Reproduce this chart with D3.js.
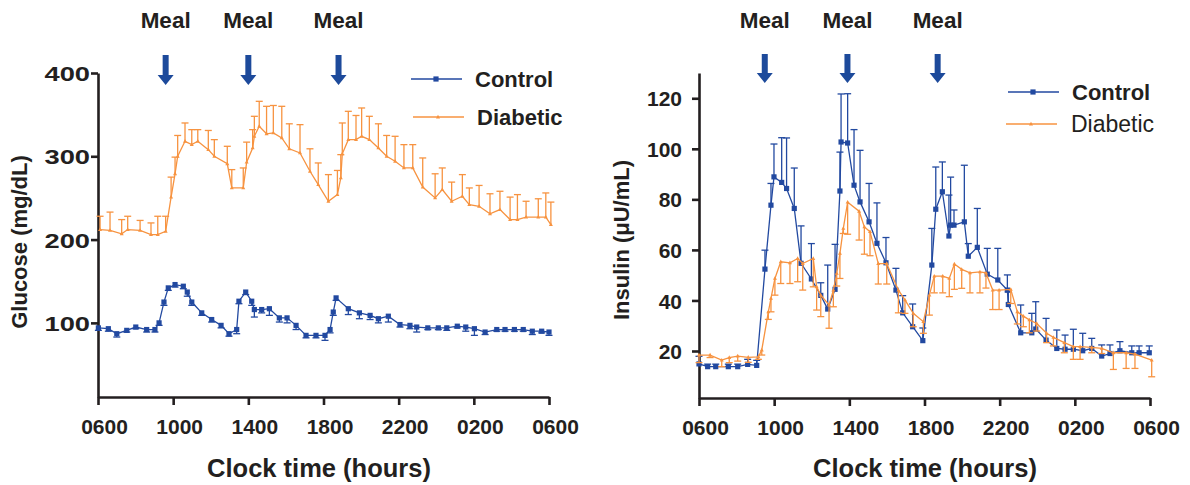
<!DOCTYPE html>
<html>
<head>
<meta charset="utf-8">
<script src="https://cdn.jsdelivr.net/npm/d3@7"></script>
<style>
  body { margin: 0; background: #fff; }
  svg text { font-family: "Liberation Sans", Arial, sans-serif; font-weight: bold; fill: #231f20; }
</style>
</head>
<body>
<svg id="chart"></svg>
<script>
// clock ticks, hours after 06:00
const clockTicks = [0, 4, 8, 12, 16, 20, 24];
const clockLabels = ["0600", "1000", "1400", "1800", "2200", "0200", "0600"];
const seriesNames = ["Control", "Diabetic"];

// glucose (mg/dL)
const glucoseTicks = [100, 200, 300, 400];
const glucoseMeals = [3.6, 8.0, 12.8];

const glucoseCtrlTime = [0.02,0.55,1.00,1.53,2.01,2.59,3.03,3.25,3.51,3.74,4.10,4.54,4.75,4.99,5.52,6.05,6.55,6.97,7.38,7.50,7.86,8.18,8.32,8.71,9.12,9.65,10.06,10.54,11.07,11.60,12.08,12.35,12.52,12.67,13.32,13.91,14.48,14.92,15.45,16.07,16.60,16.96,17.55,18.11,18.56,19.12,19.57,20.03,20.60,21.22,21.66,22.16,22.63,23.11,23.61,24.00];
const glucoseCtrlMean = [94,93,87,91,95,92,92,100,125,142,146,144,137,125,112,104,97,87,92,126,137,126,116,116,117,106,106,97,85,85,85,92,113,130,117,112,109,105,108,98,97,95,94,94,94,96,95,93,89,92,92,92,92,90,90,89];
const glucoseCtrlSem = [3,3,4,2,2,3,3,3,4,3,3,3,5,4,3,3,3,3,5,3,3,5,9,4,8,5,6,5,3,3,6,4,4,3,7,7,5,5,7,3,4,6,2,2,3,2,5,8,3,2,2,2,2,4,2,4];

const glucoseDiabTime = [0.11,0.64,1.26,1.58,2.24,2.82,3.18,3.60,3.89,4.10,4.24,4.63,4.99,5.31,5.87,6.19,6.88,7.12,7.73,7.91,8.23,8.32,8.58,8.97,9.33,9.78,10.18,10.75,11.28,11.72,12.26,12.74,12.92,13.00,13.32,13.73,14.03,14.44,14.92,15.36,15.81,16.28,16.75,17.28,17.94,18.32,18.82,19.39,19.76,20.28,20.86,21.39,21.93,22.32,22.78,23.43,23.83,24.10];
const glucoseDiabMean = [212,211,207,212,211,206,206,210,251,279,300,318,314,318,308,300,291,262,262,293,310,324,336,327,328,322,309,304,282,266,246,254,274,303,320,320,324,320,310,300,294,286,286,263,250,260,246,252,242,240,231,236,224,224,227,227,227,218];
const glucoseDiabSem = [16,22,17,16,12,14,22,18,24,20,25,22,18,14,23,20,21,22,24,24,22,24,30,33,33,38,30,34,27,26,32,29,28,37,34,29,34,28,29,25,30,28,28,35,29,26,23,26,20,25,24,22,27,30,19,22,29,27];

// insulin (uU/mL)
const insulinTicks = [20, 40, 60, 80, 100, 120];
const insulinMeals = [3.5, 7.9, 12.7];

const insulinCtrlTime = [0.00,0.46,0.89,1.56,2.06,2.59,3.07,3.51,3.83,3.99,4.40,4.66,5.07,5.43,5.98,6.48,6.85,7.24,7.50,7.56,7.91,8.25,8.57,9.05,9.47,9.95,10.48,10.84,11.37,11.91,12.39,12.60,12.95,13.30,13.39,13.57,14.12,14.33,14.81,15.34,15.90,16.41,16.46,17.12,17.71,17.92,18.47,19.04,19.48,19.92,20.42,20.90,21.43,21.87,22.40,23.03,23.42,23.96];
const insulinCtrlMean = [14.9,13.8,13.8,13.8,13.8,14.7,14.3,52.4,77.7,88.9,86.7,84.3,76.4,54.7,48.5,42.0,36.6,44.4,83.3,102.7,102.3,85.6,79.0,71.1,62.6,54.9,44.1,35.1,29.6,24.1,54.0,76.1,83.0,65.5,69.8,69.8,71.1,57.5,61.0,50.4,48.1,44.1,38.4,27.2,27.2,28.7,24.3,21.0,20.7,20.7,20.1,21.0,18.0,19.0,20.1,19.3,19.3,19.3];
const insulinCtrlSem = [3,1,1,1,1,2,2,7.5,8.6,13,17.7,20,16,14.8,14,5,17.4,17.8,15.4,19,19.5,22,20.4,15.2,16,10,8.6,6.8,9,5,14.5,16.7,11.8,16.2,19,6,22.4,5,15.4,10.2,12.5,6,5,11,7.7,10.8,8.6,7.3,5.6,7.9,6.9,4,4.4,3.4,3.6,2.7,2.7,2.7];

const insulinDiabTime = [0.00,0.59,1.21,1.61,2.06,2.62,3.16,3.34,3.69,3.83,4.04,4.35,4.84,5.25,5.52,6.08,6.26,6.48,6.92,7.15,7.33,7.50,7.68,7.91,8.52,8.80,9.10,9.54,9.99,10.61,10.96,11.40,11.94,12.26,12.52,12.97,13.32,13.59,13.98,14.42,14.95,15.27,15.63,15.97,16.59,16.94,17.26,17.58,17.97,18.50,18.86,19.44,19.92,20.28,20.90,21.43,22.05,22.73,23.20,24.09];
const insulinDiabMean = [18.4,18.4,16.4,17.4,18.0,17.5,17.7,20.4,35.5,40.8,48.7,55.3,54.9,56.6,54.6,56.6,45.4,42.1,38.2,44.1,50.7,58.6,68.5,78.9,75.3,69.1,67.2,54.6,54.6,44.1,40.2,34.9,31.6,42.1,49.6,49.6,48.7,54.4,52.3,50.9,51.3,50.9,44.1,44.1,44.4,35.5,33.8,32.3,30.9,27.0,25.4,23.3,21.7,21.7,21.4,21.0,19.3,19.3,18.8,16.4];
const insulinDiabSem = [3,1,2.6,2,2,2,1,2,3,5.3,6.6,8.6,8.2,9.2,10.5,11.2,9.2,8.5,9.2,6.6,5,9.9,2,12.7,11.4,10.8,9.5,8.1,8.1,9,5.3,5.3,4.6,7.9,6.6,6.6,7.2,10,7.5,7.9,8.3,6,7.7,7.7,5.6,4.8,4.2,5.1,3,3.7,3.4,4,5,5,2.1,2,6.6,6.2,5.7,6.6];

const width = 1190;
const height = 485;
const blue = "#2249a0";
const orange = "#f79340";
const arrowBlue = "#1d4a9b";
const ink = "#231f20";

const svg = d3.select("#chart")
    .attr("width", width)
    .attr("height", height);

function zip(t, m, s) {
    return t.map((d, i) => ({ t: d, v: m[i], e: s[i] }));
}

function drawSeries(g, x, y, data, color, marker, errDir) {
    // error bars (one sided)
    const eb = g.append("g").attr("stroke", color).attr("stroke-width", 1.3).attr("fill", "none");
    data.forEach(d => {
        const cx = x(d.t);
        const y0 = y(d.v);
        const y1 = y(d.v + errDir * d.e);
        eb.append("line").attr("x1", cx).attr("x2", cx).attr("y1", y0).attr("y2", y1);
        eb.append("line").attr("x1", cx - 3.5).attr("x2", cx + 3.5).attr("y1", y1).attr("y2", y1);
    });

    g.append("path")
        .datum(data)
        .attr("fill", "none")
        .attr("stroke", color)
        .attr("stroke-width", 1.3)
        .attr("d", d3.line().x(d => x(d.t)).y(d => y(d.v)));

    drawMarkers(g, data.map(d => [x(d.t), y(d.v)]), color, marker);
}

function drawMarkers(g, pts, color, marker) {
    g.selectAll(null)
        .data(pts)
        .enter()
        .append("path")
        .attr("transform", d => `translate(${d[0]},${d[1]})`)
        .attr("fill", color)
        .attr("d", marker === "square" ? "M-2.6,-2.6H2.6V2.6H-2.6Z" : "M0,-2.2L2,1.4H-2Z");
}

function drawPanel(p) {
    const g = svg.append("g");
    const x = d3.scaleLinear().domain([0, 24]).range([p.left, p.right]);
    const y = d3.scaleLinear().domain(p.yDomain).range([p.axisY, p.top]);

    const xAxis = d3.axisBottom(x)
        .tickValues(clockTicks)
        .tickFormat((d, i) => clockLabels[i])
        .tickSize(8)
        .tickSizeOuter(0)
        .tickPadding(14);

    const yAxis = d3.axisLeft(y)
        .tickValues(p.yTicks)
        .tickSize(7)
        .tickSizeOuter(0)
        .tickPadding(p.yPad);

    const gx = g.append("g").attr("transform", `translate(0,${p.axisY})`).call(xAxis);
    const gy = g.append("g").attr("transform", `translate(${p.left},0)`).call(yAxis);

    [gx, gy].forEach(a => {
        a.select(".domain").attr("stroke", ink).attr("stroke-width", 2.6);
        a.selectAll(".tick line").attr("stroke", ink).attr("stroke-width", 2.6);
        a.selectAll(".tick text")
            .attr("fill", ink)
            .style("font-size", "21px")
            .style("font-family", "'Liberation Sans', Arial, sans-serif")
            .style("font-weight", "bold");
    });
    gx.selectAll(".tick text").attr("dx", 6);
    gy.selectAll(".tick text")
        .attr("dy", "0.36em")
        .attr("x", -(7 + p.yPad) / p.yStretch)
        .attr("transform", `scale(${p.yStretch},1)`);

    // axis titles
    g.append("text")
        .attr("x", p.xTitleX)
        .attr("y", 477)
        .attr("text-anchor", "middle")
        .style("font-size", "25.5px")
        .text("Clock time (hours)");

    g.append("text")
        .attr("transform", `translate(${p.yTitleX},${p.yTitleY}) rotate(-90)`)
        .attr("text-anchor", "middle")
        .style("font-size", "22px")
        .text(p.yTitle);

    // meal arrows
    p.meals.forEach(m => {
        const cx = x(m);
        g.append("text")
            .attr("x", cx)
            .attr("y", 28)
            .attr("text-anchor", "middle")
            .style("font-size", "22.5px")
            .text("Meal");
        const t = p.arrow[0], h = p.arrow[1], b = p.arrow[2];
        g.append("path")
            .attr("fill", arrowBlue)
            .attr("d", `M${cx - 3},${t}V${h}H${cx - 8}L${cx},${b}L${cx + 8},${h}H${cx + 3}V${t}Z`);
    });

    // series
    drawSeries(g, x, y, p.ctrl, blue, "square", p.ctrlDir);
    drawSeries(g, x, y, p.diab, orange, "tri", p.diabDir);

    // legend
    const lg = g.append("g");
    p.legend.forEach((L, i) => {
        const color = i === 0 ? blue : orange;
        lg.append("line")
            .attr("x1", L.x).attr("x2", L.x + 51)
            .attr("y1", L.y).attr("y2", L.y)
            .attr("stroke", color).attr("stroke-width", 1.6);
        drawMarkers(lg, [[L.x + 25, L.y]], color, i === 0 ? "square" : "tri");
        lg.append("text")
            .attr("x", L.tx)
            .attr("y", L.y + 8)
            .style("font-size", L.size + "px")
            .style("font-weight", L.weight)
            .text(seriesNames[i]);
    });
}

drawPanel({
    left: 98, right: 549, top: 73, axisY: 397,
    yDomain: [11, 400], yTicks: glucoseTicks, yPad: 1, yStretch: 1.3,
    yTitle: "Glucose (mg/dL)", yTitleX: 27, yTitleY: 242, xTitleX: 319,
    meals: glucoseMeals, arrow: [55, 75, 85],
    ctrl: zip(glucoseCtrlTime, glucoseCtrlMean, glucoseCtrlSem), ctrlDir: -1,
    diab: zip(glucoseDiabTime, glucoseDiabMean, glucoseDiabSem), diabDir: 1,
    legend: [
        { x: 411, y: 79, tx: 475, size: 22, weight: "bold" },
        { x: 413, y: 117, tx: 477, size: 22, weight: "bold" }
    ]
});

drawPanel({
    left: 699, right: 1150, top: 73, axisY: 398,
    yDomain: [1.4, 130], yTicks: insulinTicks, yPad: 10, yStretch: 1,
    yTitle: "Insulin (\u03bcU/mL)", yTitleX: 629, yTitleY: 240, xTitleX: 925,
    meals: insulinMeals, arrow: [54, 73, 83],
    ctrl: zip(insulinCtrlTime, insulinCtrlMean, insulinCtrlSem), ctrlDir: 1,
    diab: zip(insulinDiabTime, insulinDiabMean, insulinDiabSem), diabDir: -1,
    legend: [
        { x: 1008, y: 92, tx: 1072, size: 22, weight: "bold" },
        { x: 1006, y: 124, tx: 1071, size: 23, weight: "normal" }
    ]
});
</script>
</body>
</html>
